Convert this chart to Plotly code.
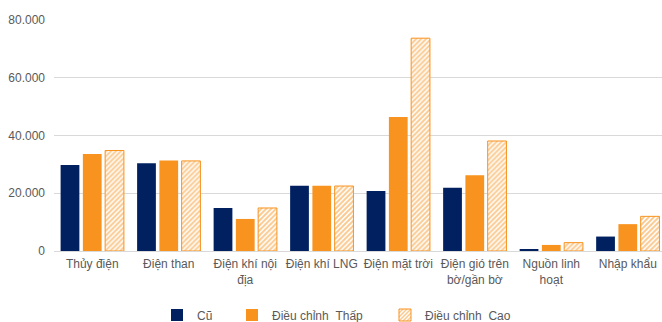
import plotly.graph_objects as go

categories = ["Thủy điện", "Điện than", "Điện khí nội<br>địa", "Điện khí LNG",
              "Điện mặt trời", "Điện gió trên<br>bờ/gần bờ", "Nguồn linh<br>hoạt", "Nhập khẩu"]
cu = [29800, 30400, 14900, 22600, 20800, 21900, 350, 5000]
thap = [33600, 31300, 11100, 22600, 46400, 26200, 2100, 9300]
cao = [34800, 31200, 14900, 22500, 73700, 38100, 2900, 12000]
y_ticks = [0, 20000, 40000, 60000, 80000]
y_tick_text = ["0", "20.000", "40.000", "60.000", "80.000"]

NAVY = "#002060"
ORANGE = "#F7931E"
GRID = "#d9d9d9"
TEXT = "#595959"
FONT = "Liberation Sans, Arial, sans-serif"
W, H = 662, 322

fig = go.Figure()
fig.add_trace(go.Bar(x=categories, y=cu, name="Cũ", legend="legend",
                     marker=dict(color=NAVY, line=dict(width=0))))
fig.add_trace(go.Bar(x=categories, y=thap, name="Điều chỉnh_Thấp", legend="legend2",
                     marker=dict(color=ORANGE, line=dict(width=0))))
fig.add_trace(go.Bar(x=categories, y=cao, name="Điều chỉnh_Cao", legend="legend3",
                     marker=dict(color="white",
                                 line=dict(color=ORANGE, width=1),
                                 pattern=dict(shape="/", fgcolor=ORANGE, bgcolor="white",
                                              size=3.5, solidity=0.55))))


def legend_at(px):
    # one single-entry legend per series, placed along the bottom row
    return dict(orientation="h", xref="container", x=px / W, xanchor="left",
                yref="container", y=7 / H, yanchor="middle",
                font=dict(family=FONT, size=12, color=TEXT),
                itemwidth=30, bgcolor="rgba(0,0,0,0)")


fig.update_layout(
    width=W, height=H,
    margin=dict(l=54, r=0, t=20, b=71),
    paper_bgcolor="white", plot_bgcolor="white",
    barmode="group", bargap=0.127, bargroupgap=0.157,
    font=dict(family=FONT, size=12, color=TEXT),
    showlegend=True,
    legend=legend_at(157),
    legend2=legend_at(232),
    legend3=legend_at(385),
    xaxis=dict(type="category", range=[-0.5, 7.447], showgrid=False,
               showline=False, ticks="", ticklabelstandoff=4,
               tickfont=dict(size=12, color=TEXT)),
    yaxis=dict(range=[0, 80000], tickvals=y_ticks, ticktext=y_tick_text,
               showgrid=True, gridcolor=GRID, gridwidth=1,
               zeroline=True, zerolinecolor=GRID, zerolinewidth=1,
               showline=False, ticks="", ticklabelstandoff=8,
               tickfont=dict(size=12, color=TEXT)),
)

fig.write_html("out.html")
